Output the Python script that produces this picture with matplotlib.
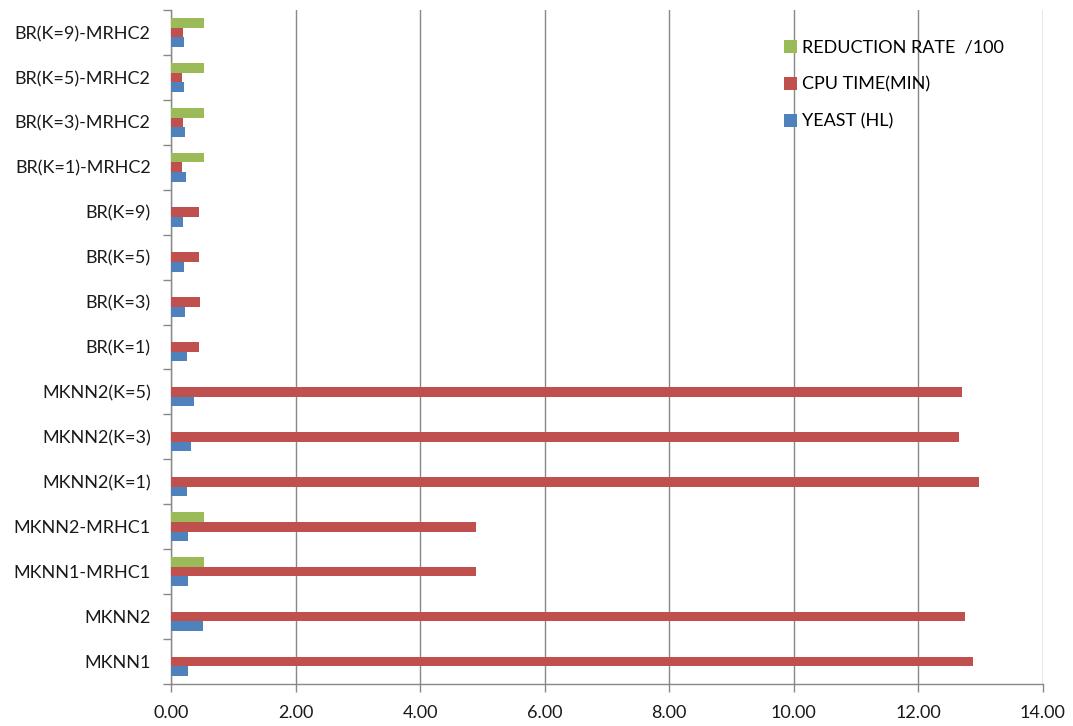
import numpy as np
import matplotlib
matplotlib.use("Agg")
from matplotlib import pyplot as plt
from matplotlib.ticker import FormatStrFormatter, MultipleLocator

plt.rcParams['font.family'] = ['Lato', 'DejaVu Sans']

# bottom to top, as on the axis
methods = ['MKNN1', 'MKNN2', 'MKNN1-MRHC1', 'MKNN2-MRHC1',
           'MKNN2(K=1)', 'MKNN2(K=3)', 'MKNN2(K=5)',
           'BR(K=1)', 'BR(K=3)', 'BR(K=5)', 'BR(K=9)',
           'BR(K=1)-MRHC2', 'BR(K=3)-MRHC2', 'BR(K=5)-MRHC2', 'BR(K=9)-MRHC2']

yeast_hl = [0.27, 0.51, 0.27, 0.27, 0.25, 0.31, 0.36,
            0.25, 0.22, 0.20, 0.185, 0.23, 0.22, 0.20, 0.20]
cpu_time = [12.88, 12.76, 4.90, 4.90, 12.98, 12.65, 12.70,
            0.45, 0.46, 0.45, 0.45, 0.17, 0.185, 0.17, 0.185]
# no reduction rate for the plain MKNN2 / BR runs
reduction_rate = [np.nan, np.nan, 0.52, 0.52, np.nan, np.nan, np.nan,
                  np.nan, np.nan, np.nan, np.nan, 0.52, 0.52, 0.52, 0.52]

BLUE = '#4F81BD'
RED = '#C0504D'
GREEN = '#9BBB59'
GRID = '#888888'


def plot_chart():
    fig = plt.figure(figsize=(10.73, 7.26), dpi=100)
    ax = fig.add_axes([0.1598, 0.0579, 0.9716 - 0.1598, 0.9862 - 0.0579])

    y = np.arange(len(methods))
    h = 0.215
    b1 = ax.barh(y - h, yeast_hl, height=h, color=BLUE, label='YEAST (HL)', zorder=3)
    b2 = ax.barh(y, cpu_time, height=h, color=RED, label='CPU TIME(MIN)', zorder=3)
    b3 = ax.barh(y + h, reduction_rate, height=h, color=GREEN, label='REDUCTION RATE  /100', zorder=3)

    ax.set_xlim(0, 14)
    ax.set_ylim(-0.5, len(methods) - 0.5)
    ax.xaxis.set_major_locator(MultipleLocator(2))
    ax.xaxis.set_major_formatter(FormatStrFormatter('%.2f'))
    ax.grid(axis='x', color=GRID, linewidth=1, zorder=0)

    ax.set_yticks(y)
    ax.set_yticklabels(methods)
    ax.set_yticks(np.arange(len(methods) + 1) - 0.5, minor=True)
    ax.tick_params(axis='y', which='major', length=0, pad=15, labelsize=13, labelcolor='#1a1a1a')
    ax.tick_params(axis='y', which='minor', length=6, color=GRID, width=1)
    ax.tick_params(axis='x', length=6, color=GRID, width=1, pad=9, labelsize=13, labelcolor='#1a1a1a')

    for side in ['top', 'right']:
        ax.spines[side].set_visible(False)
    for side in ['left', 'bottom']:
        ax.spines[side].set_color(GRID)
        ax.spines[side].set_linewidth(1)

    ax.legend([b3, b2, b1], [b3.get_label(), b2.get_label(), b1.get_label()],
              loc='upper left', bbox_to_anchor=(0.684, 0.9805), frameon=False,
              handlelength=0.75, handleheight=0.75, handletextpad=0.3,
              labelspacing=1.16, fontsize=13)

    fig.savefig('out.png', dpi=100)


plot_chart()
